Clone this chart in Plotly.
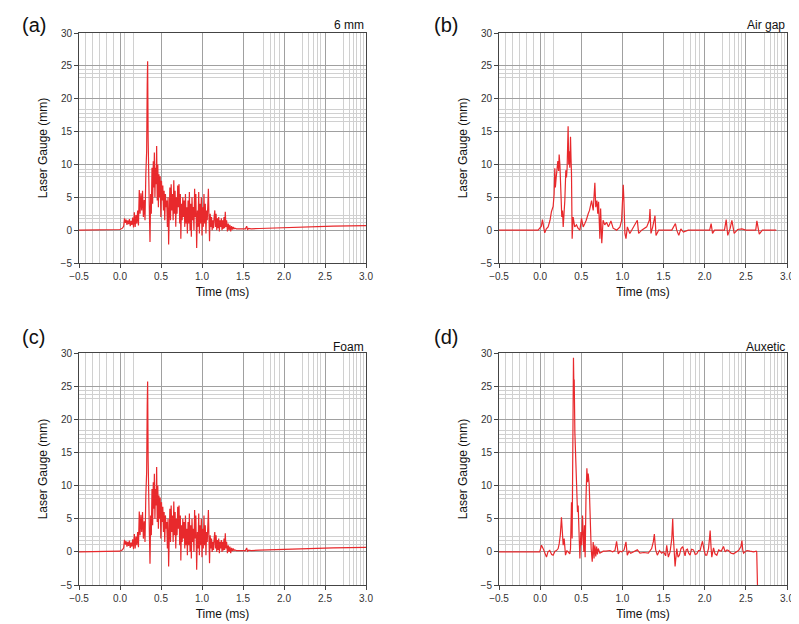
import plotly.graph_objects as go

# ---------------- data ----------------
# (a) 6 mm  and  (c) Foam  (the two traces are identical in the reference)
t_6mm = [
    -0.5, -0.05, 0.0, 0.03, 0.045, 0.055, 0.065, 0.075, 0.085, 0.095,
    0.105, 0.115, 0.125, 0.135, 0.145, 0.155, 0.165, 0.175, 0.185, 0.195,
    0.205, 0.215, 0.225, 0.235, 0.245, 0.255, 0.265, 0.275, 0.285, 0.295,
    0.305, 0.315, 0.325, 0.332, 0.337, 0.343, 0.35, 0.358, 0.366, 0.374,
    0.382, 0.39, 0.398, 0.406, 0.413, 0.419, 0.426, 0.433, 0.44, 0.447,
    0.454, 0.461, 0.468, 0.475, 0.482, 0.49, 0.498, 0.506, 0.514, 0.522,
    0.53, 0.538, 0.546, 0.554, 0.562, 0.57, 0.578, 0.586, 0.593, 0.6,
    0.608, 0.616, 0.624, 0.632, 0.64, 0.648, 0.656, 0.664, 0.672, 0.68,
    0.688, 0.696, 0.704, 0.712, 0.72, 0.728, 0.736, 0.742, 0.75, 0.758,
    0.766, 0.774, 0.782, 0.79, 0.798, 0.806, 0.814, 0.822, 0.83, 0.838,
    0.846, 0.854, 0.862, 0.87, 0.878, 0.886, 0.894, 0.902, 0.91, 0.917,
    0.925, 0.935, 0.944, 0.952, 0.96, 0.968, 0.976, 0.984, 0.992, 1.0,
    1.008, 1.016, 1.024, 1.032, 1.04, 1.048, 1.056, 1.064, 1.072, 1.078,
    1.085, 1.092, 1.1, 1.108, 1.116, 1.124, 1.132, 1.14, 1.148, 1.156,
    1.164, 1.172, 1.18, 1.188, 1.196, 1.204, 1.212, 1.22, 1.228, 1.236,
    1.244, 1.252, 1.26, 1.268, 1.276, 1.284, 1.292, 1.3, 1.31, 1.32,
    1.33, 1.34, 1.35, 1.36, 1.37, 1.38, 1.39, 1.4, 1.42, 1.45,
    1.5, 1.53, 1.545, 1.555, 1.57, 1.6, 1.7, 1.8, 1.9, 2.0,
    2.2, 2.4, 2.6, 2.8, 3.0,
]
y_6mm = [
    0.0, 0.0, 0.1, 0.3, 0.6, 1.8, 1.1, 1.6, 0.8, 1.5,
    0.9, 1.7, 0.6, 1.4, 0.8, 1.9, 0.4, 2.7, 0.5, 2.3,
    1.0, 3.0, 0.7, 6.1, 2.5, 5.6, 3.0, 6.0, 2.0, 4.6,
    1.5, 8.5, 12.0, 22.0, 25.7, 14.0, 6.0, 3.0, -1.8, 5.5,
    2.5, 9.5, 4.0, 10.5, 6.5, 11.8, 5.0, 9.5, 7.0, 12.8,
    4.5, 10.0, 3.5, 8.5, 5.0, 8.2, 2.0, 7.5, 4.5, 6.8,
    3.0, 6.0, 1.5, 5.5, 3.5, 4.5, 0.5, 5.0, -2.2, 3.5,
    6.5, 1.5, 7.0, 3.0, 5.5, 1.5, 7.6, 2.5, 6.0, 0.5,
    5.0, 2.5, 6.8, 3.5, 7.0, 1.0, 5.5, -1.3, 4.0, 1.5,
    5.0, 2.0, 4.5, 0.5, 5.5, 1.0, 3.5, -0.5, 4.5, 1.0,
    5.8, 0.0, 4.0, -1.0, 5.0, 1.5, 3.5, 0.0, 6.3, 2.0,
    5.5, -2.7, 3.0, 0.5, 5.8, -0.5, 4.0, 1.0, 5.0, -0.8,
    3.5, 0.5, 5.5, 1.0, 4.0, -0.5, 3.0, 1.5, 5.0, 6.3,
    2.0, -1.7, 2.5, 0.5, 2.0, 0.0, 1.5, 0.3, 2.0, 3.0,
    0.5, 2.5, 0.0, 1.8, 0.3, 2.0, -0.2, 1.5, 0.5, 1.8,
    0.0, 1.5, 0.2, 2.0, 0.3, 2.8, 0.5, 1.5, -0.2, 1.0,
    0.0, 0.8, -0.2, 0.6, 0.1, 0.5, 0.2, 0.3, 0.2, 0.2,
    0.15, 0.2, 0.6, 0.1, 0.25, 0.2, 0.25, 0.3, 0.32, 0.38,
    0.45, 0.52, 0.6, 0.65, 0.68,
]
t_foam = list(t_6mm)
y_foam = list(y_6mm)

# (b) Air gap
t_air = [
    -0.5, -0.025, 0.015, 0.028, 0.045, 0.056, 0.075, 0.097, 0.12, 0.137,
    0.158, 0.17, 0.178, 0.185, 0.195, 0.206, 0.215, 0.225, 0.231, 0.24,
    0.247, 0.255, 0.263, 0.272, 0.28, 0.29, 0.30, 0.312, 0.32, 0.328,
    0.34, 0.347, 0.353, 0.36, 0.369, 0.375, 0.381, 0.389, 0.401, 0.42,
    0.442, 0.46, 0.483, 0.503, 0.523, 0.543, 0.56, 0.584, 0.6, 0.625,
    0.645, 0.665, 0.676, 0.69, 0.7, 0.71, 0.726, 0.735, 0.749, 0.765,
    0.785, 0.807, 0.83, 0.86, 0.887, 0.93, 0.97, 0.99, 1.01, 1.018,
    1.03, 1.043, 1.06, 1.09, 1.13, 1.181, 1.197, 1.234, 1.295, 1.327,
    1.335, 1.347, 1.368, 1.396, 1.408, 1.44, 1.6, 1.644, 1.66, 1.685,
    1.71, 1.741, 1.8, 2.06, 2.078, 2.095, 2.12, 2.24, 2.261, 2.28,
    2.31, 2.33, 2.358, 2.4, 2.452, 2.5, 2.62, 2.634, 2.663, 2.7,
    2.87,
]
y_air = [
    0.0, 0.0, 0.6, 1.6, 0.3, -0.4, 0.2, 0.5, 1.5, 2.8,
    3.6, 5.5, 9.4, 6.5, 8.0, 9.5, 10.5, 9.0, 11.5, 10.0,
    8.0, 4.0, 2.0, 3.0, 0.5, 2.5, 4.5, 9.1, 8.0, 9.5,
    15.8, 10.0, 12.0, 9.5, 14.2, 11.0, 8.6, -1.3, 2.0, 0.5,
    0.8, 0.3, 0.0, 1.8, 0.5, 1.0, 1.5, 2.5, 3.0, 4.5,
    3.0, 7.2, 3.5, 4.5, 2.5, 4.3, -1.3, 3.3, -2.0, 1.5,
    0.8, 1.2, 0.5, 1.4, 0.3, 0.0, 0.5, 1.5, 6.9, 4.5,
    -0.5, -1.3, 0.5, -0.5, 0.3, 1.5, -0.5, 0.0, 0.5, 1.5,
    3.2, -0.5, 0.5, 2.2, -0.8, 0.0, 0.0, 1.0, 0.0, -0.8,
    0.2, -0.3, 0.0, 0.0, 1.0, -0.5, 0.0, 0.0, 1.6, -0.8,
    0.3, 1.5, -0.5, 0.1, 0.2, 0.0, 0.0, 1.4, -0.6, 0.0,
    0.0,
]

# (d) Auxetic
t_aux = [
    -0.5, -0.005, 0.016, 0.04, 0.077, 0.095, 0.117, 0.14, 0.158, 0.18,
    0.198, 0.219, 0.231, 0.245, 0.259, 0.268, 0.28, 0.292, 0.308, 0.325,
    0.34, 0.361, 0.369, 0.381, 0.389, 0.397, 0.405, 0.41, 0.414, 0.422,
    0.43, 0.436, 0.442, 0.448, 0.454, 0.462, 0.47, 0.483, 0.495, 0.505,
    0.515, 0.531, 0.539, 0.547, 0.557, 0.568, 0.576, 0.584, 0.596, 0.604,
    0.612, 0.62, 0.633, 0.645, 0.655, 0.665, 0.676, 0.686, 0.696, 0.706,
    0.726, 0.767, 0.8, 0.848, 0.88, 0.909, 0.929, 0.94, 0.949, 0.97,
    0.99, 1.02, 1.043, 1.059, 1.08, 1.1, 1.132, 1.181, 1.213, 1.26,
    1.315, 1.34, 1.355, 1.375, 1.388, 1.397, 1.404, 1.424, 1.45, 1.477,
    1.5, 1.525, 1.538, 1.558, 1.579, 1.6, 1.611, 1.618, 1.624, 1.632,
    1.64, 1.66, 1.676, 1.692, 1.712, 1.733, 1.748, 1.761, 1.775, 1.79,
    1.805, 1.822, 1.84, 1.863, 1.885, 1.904, 1.925, 1.944, 1.96, 1.973,
    1.993, 2.01, 2.025, 2.046, 2.058, 2.066, 2.078, 2.086, 2.107, 2.125,
    2.147, 2.17, 2.2, 2.228, 2.249, 2.27, 2.289, 2.32, 2.35, 2.38,
    2.411, 2.44, 2.452, 2.462, 2.472, 2.49, 2.513, 2.55, 2.594, 2.626,
    2.632, 2.643,
]
y_aux = [
    0.0, 0.0, 1.0, 0.4, -0.8, 0.0, 0.2, -0.4, -0.5, 0.1,
    0.2, 0.5, 1.2, 2.5, 5.2, 2.5, 1.0, 2.0, -0.5, 0.2,
    0.0, -0.3, 0.5, 7.5, 2.0, 20.0, 29.3, 25.0, 26.0, 18.0,
    14.0, 11.0, 12.0, 7.0, 6.0, 7.0, 4.5, -1.0, 3.0, 1.0,
    5.5, 0.0, 4.0, -0.8, 8.0, 12.6, 10.5, 11.8, 10.2, 5.2,
    2.0, 0.5, -1.5, 1.5, -1.0, 1.0, -0.7, 0.8, -0.4, 0.5,
    -0.2, 0.1, 0.1, 0.2, 0.0, 0.2, 1.6, 0.3, -0.3, 0.1,
    0.0, 0.3, 1.5, -0.5, 0.1, -0.2, 0.0, 0.3, -0.2, -0.1,
    -0.2, 0.2, 0.5, 1.5, 2.7, 1.2, 0.3, -0.5, 0.2, -0.2,
    0.0, -0.6, 1.0, -0.8, 0.0, 2.0, 5.0, 2.5, 1.0, -1.0,
    -2.2, 0.5, -0.8, -0.5, 0.5, 0.8, -0.3, -0.6, 0.3, 0.4,
    -0.2, -0.5, 0.4, 0.3, -0.4, -0.3, 0.2, 0.2, 1.0, 1.6,
    0.2, -0.5, -0.5, 0.5, 2.0, 3.2, 0.5, -0.8, 0.6, -0.3,
    -0.5, 0.3, 0.1, 0.8, 0.0, 0.3, 0.2, -0.2, -0.3, 0.0,
    0.2, 0.8, 1.7, 0.3, -0.2, 0.0, 0.2, 0.1, 0.0, 0.1,
    0.0, -6.0,
]

panel_letters = ["(a)", "(b)", "(c)", "(d)"]
panel_titles = ["6 mm", "Air gap", "Foam", "Auxetic"]
x_title = "Time (ms)"
y_title = "Laser Gauge (mm)"
x_ticks = [-0.5, 0.0, 0.5, 1.0, 1.5, 2.0, 2.5, 3.0]
y_ticks = [-5, 0, 5, 10, 15, 20, 25, 30]
x_minor = [-0.42, -0.335, -0.245, -0.165, -0.085, 0.05, 0.16,
           1.745, 1.83, 1.89, 1.94,
           2.22, 2.3, 2.36, 2.41, 2.45,
           2.73, 2.8, 2.85, 2.89, 2.93, 2.965]
y_minor = [1.1, 1.7, 2.3, 8.1, 8.7, 9.3, 16.5, 17.1, 17.7, 18.3, 23.2, 23.8, 24.4]

series = [(t_6mm, y_6mm), (t_air, y_air), (t_foam, y_foam), (t_aux, y_aux)]

# ---------------- layout ----------------
# The page body adds an 8 px offset; the figure covers window pixels 8..799 / 8..624.
OFF = 8
W, H = 799 - OFF, 624 - OFF


def fx(px):
    return (px - OFF) / W


def fy(py):
    return 1 - (py - OFF) / H


dom_x = [[fx(79), fx(366)], [fx(499), fx(787)]]
dom_y = [[fy(263), fy(33)], [fy(585), fy(353)]]

FONT = "Liberation Sans, Arial, sans-serif"
RED = "#e8292c"

fig = go.Figure()
layout = dict(
    template="none",
    width=W, height=H, autosize=False,
    margin=dict(l=0, r=0, t=0, b=0, pad=0, autoexpand=False),
    paper_bgcolor="white", plot_bgcolor="white", showlegend=False,
    font=dict(family=FONT, color="#222"),
)
annotations = []
for i in range(4):
    r, c = divmod(i, 2)
    xs = "" if i == 0 else str(i + 1)
    t, y = series[i]
    fig.add_trace(go.Scatter(x=t, y=y, mode="lines",
                             line=dict(color=RED, width=1.2),
                             xaxis="x" + xs, yaxis="y" + xs, hoverinfo="skip"))
    layout["xaxis" + xs] = dict(
        domain=dom_x[c], anchor="y" + xs, range=[-0.5, 3.0], automargin=False,
        tickmode="array", tickvals=x_ticks, tickformat=".1f",
        showgrid=True, gridcolor="#a0a0a0", gridwidth=1,
        minor=dict(tickmode="array", tickvals=x_minor, showgrid=True,
                   gridcolor="#d0d0d0", gridwidth=1, ticks=""),
        showline=True, mirror=True, linecolor="#444", linewidth=1,
        ticks="outside", ticklen=4, tickcolor="#444",
        tickfont=dict(size=10, color="#333"),
        title=dict(text=x_title, font=dict(size=12, color="#111"), standoff=6),
        zeroline=False,
    )
    layout["yaxis" + xs] = dict(
        domain=dom_y[r], anchor="x" + xs, range=[-5, 30], automargin=False,
        tickmode="array", tickvals=y_ticks,
        showgrid=True, gridcolor="#a0a0a0", gridwidth=1,
        minor=dict(tickmode="array", tickvals=y_minor, showgrid=True,
                   gridcolor="#d0d0d0", gridwidth=1, ticks=""),
        showline=True, mirror=True, linecolor="#444", linewidth=1,
        ticks="outside", ticklen=4, tickcolor="#444",
        tickfont=dict(size=10, color="#333"),
        title=dict(text=y_title, font=dict(size=12, color="#111"), standoff=10),
        zeroline=False,
    )
    top_px = 25 if r == 0 else 337
    annotations.append(dict(
        text=panel_letters[i], x=fx(20 if c == 0 else 432), y=fy(top_px),
        xref="paper", yref="paper", xanchor="left", yanchor="middle",
        showarrow=False, font=dict(size=20, color="#111")))
    annotations.append(dict(
        text=panel_titles[i], x=dom_x[c][1], y=fy(25 if r == 0 else 347),
        xref="paper", yref="paper", xanchor="right", yanchor="middle",
        showarrow=False, font=dict(size=12, color="#111")))
layout["annotations"] = annotations
fig.update_layout(**layout)
fig.write_html("out.html")
